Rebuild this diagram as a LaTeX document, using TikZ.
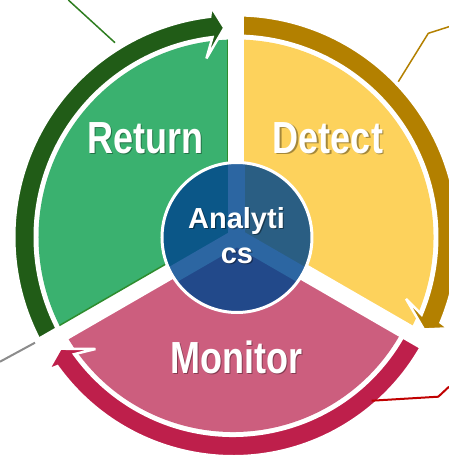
\documentclass[tikz,border=0pt]{standalone}
\usepackage{fontspec}
\setmainfont{Liberation Sans}
\usetikzlibrary{calc}

\definecolor{greenFill}{HTML}{3AB16F}
\definecolor{greenBand}{HTML}{215C17}
\definecolor{greenEdge}{HTML}{2E8C2E}
\definecolor{greenLine}{HTML}{2E7D20}
\definecolor{yellowFill}{HTML}{FDD25C}
\definecolor{goldBand}{HTML}{B38000}
\definecolor{pinkFill}{HTML}{CC5E7E}
\definecolor{pinkBand}{HTML}{BE1F4B}
\definecolor{redLine}{HTML}{C00000}
\definecolor{grayLine}{HTML}{8C8C8C}
\definecolor{hubA}{HTML}{0B5788}
\definecolor{hubB}{HTML}{2A5E83}
\definecolor{hubC}{HTML}{22498A}
\definecolor{hubStripe}{HTML}{2C66A2}

\begin{document}
\begin{tikzpicture}[x=1pt,y=1pt,
  arrowband/.style={draw=white,line width=2.5,line join=miter,miter limit=4},
  gapstripe/.style={white,line width=16.5},
  leader/.style={line width=1.5},
  phase/.style={text=white,font=\bfseries\fontsize{45}{45}\selectfont,anchor=base,inner sep=0},
  phaseshadow/.style={phase,text=black,opacity=0.35},
  hub/.style={text=white,font=\bfseries\fontsize{29}{29}\selectfont,anchor=base,inner sep=0},
  hubshadow/.style={hub,text=black,opacity=0.4}]
\useasboundingbox (-236,-219) rectangle (213,237);

% three sectors
\fill[greenFill] (0,4) -- (90:197.5) arc[start angle=90,end angle=210,radius=197.5] -- cycle;
\fill[yellowFill] (0,4) -- (-30:197.5) arc[start angle=-30,end angle=90,radius=197.5] -- cycle;
\fill[pinkFill] (0,4) -- ($(-3,-3)+(210:192)$) arc[start angle=210,end angle=330,radius=192] -- cycle;

% curved arrows around the sectors
\filldraw[fill=greenBand,arrowband]
  (210:201.25) arc[start angle=210,end angle=96.7,radius=201.25]
  -- (99.4:181) -- (93.2:209.5) -- (96.1:231) -- (96.7:221.75)
  arc[start angle=96.7,end angle=210,radius=221.75] -- cycle;
\filldraw[fill=goldBand,arrowband]
  (90:201.25) arc[start angle=90,end angle=-22.7,radius=201.25]
  -- (-20.0:181) -- (-26.2:209.5) -- (-23.3:231) -- (-22.7:221.75)
  arc[start angle=-22.7,end angle=90,radius=221.75] -- cycle;
\begin{scope}[shift={(-3,-3)}]
\filldraw[fill=pinkBand,arrowband]
  (-28:195.75) arc[start angle=-28,end angle=-144.3,radius=195.75]
  -- (-141.6:175.5) -- (-147.8:204) -- (-144.9:225.5) -- (-144.3:216.25)
  arc[start angle=-144.3,end angle=-28,radius=216.25] -- cycle;
\end{scope}

% white gaps between the sectors
\coordinate (hubpt) at (0,4);
\draw[gapstripe] (hubpt) -- ($(hubpt)+(90:240)$);
\draw[gapstripe] (hubpt) -- ($(hubpt)+(210:240)$);
\draw[gapstripe] (hubpt) -- ($(hubpt)+(330:240)$);

% darker rim on the straight edges of the green sector
\begin{scope}
\clip (0,0) circle (197.5);
\draw[greenEdge,line width=1.5] (-8.25,60) -- (-8.25,200);
\draw[greenEdge,line width=1.5] ($(-4.1,11.1)+(210:60)$) -- ($(-4.1,11.1)+(210:200)$);
\end{scope}

% central hub
\begin{scope}[shift={(1,-0.5)}]
\fill[hubA] (0,0) -- (90:75) arc[start angle=90,end angle=210,radius=75] -- cycle;
\fill[hubB] (0,0) -- (-30:75) arc[start angle=-30,end angle=90,radius=75] -- cycle;
\fill[hubC] (0,0) -- (210:75) arc[start angle=210,end angle=330,radius=75] -- cycle;
\begin{scope}
\clip (0,0) circle (75);
\draw[hubStripe,line width=17] (0,0) -- (90:80);
\draw[hubStripe,line width=17] (0,0) -- (210:80);
\draw[hubStripe,line width=17] (0,0) -- (330:80);
\end{scope}
\draw[white,line width=3] (0,0) circle (75);
\end{scope}

% labels
\node[phaseshadow] (returnS) at (-89.2,82.7) {\scalebox{0.8}[1]{Return}};
\node[phase] (return) at (-90.5,84) {\scalebox{0.8}[1]{Return}};
\node[phaseshadow] (detectS) at (93.3,82.7) {\scalebox{0.8}[1]{Detect}};
\node[phase] (detect) at (92,84) {\scalebox{0.8}[1]{Detect}};
\node[phaseshadow] (monitorS) at (1.8,-137.3) {\scalebox{0.8}[1]{Monitor}};
\node[phase] (monitor) at (0.5,-136) {\scalebox{0.8}[1]{Monitor}};
\node[hubshadow] (analytiS) at (1.7,7.8) {Analyti};
\node[hub] (analyti) at (0.5,9) {Analyti};
\node[hubshadow] (csS) at (2.2,-27.2) {cs};
\node[hub] (cs) at (1,-26) {cs};

% leader lines
\coordinate (gA) at (-167.7,237);
\coordinate (gB) at (-121,194.3);
\draw[leader,greenLine] (gA) -- (gB);
\coordinate (yA) at (213,210.3);
\coordinate (yB) at (192.3,203.7);
\coordinate (yC) at (162.3,155.3);
\draw[leader,goldBand] (yA) -- (yB) -- (yC);
\coordinate (kA) at (-236,-124.7);
\coordinate (kB) at (-201,-105.7);
\draw[leader,grayLine,line width=2] (kA) -- (kB);
\coordinate (rA) at (213,-149.7);
\coordinate (rB) at (202.3,-159.7);
\coordinate (rC) at (135.7,-163.7);
\draw[leader,redLine,line width=2] (rA) -- (rB) -- (rC);
\end{tikzpicture}
\end{document}
